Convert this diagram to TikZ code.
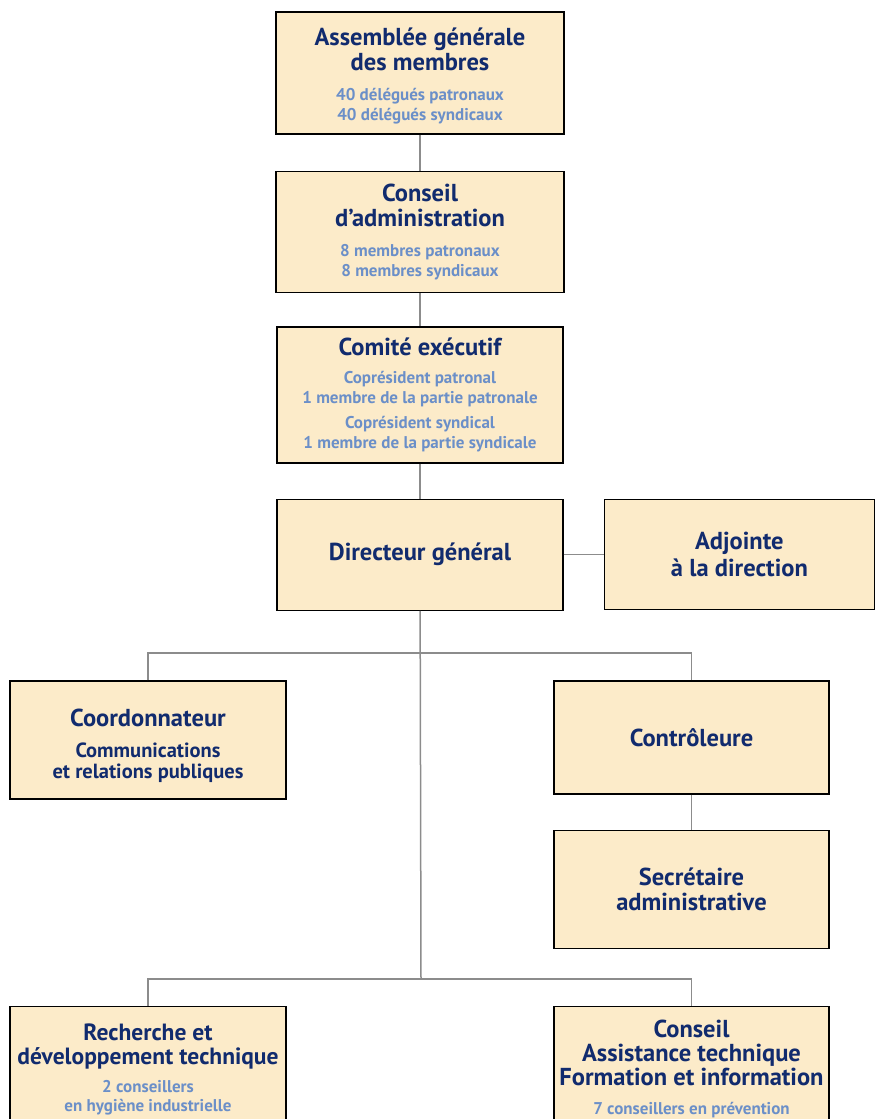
\documentclass[tikz,border=0pt]{standalone}
\usepackage{fontspec}
\setmainfont{PT Sans}
\usetikzlibrary{positioning}

\definecolor{boxfill}{HTML}{FCEBC9}
\definecolor{navy}{HTML}{112B6E}
\definecolor{steel}{HTML}{6B8FC8}
\definecolor{wire}{HTML}{8C8C8C}

\newcommand{\detail}[1]{\textcolor{steel}{\fontsize{17}{20}\selectfont #1}}
\newcommand{\soustitre}[1]{{\fontsize{20.5}{21}\selectfont #1}}

\tikzset{
	unit/.style={draw=black, line width=1.4pt, fill=boxfill, align=center,
		text=navy, font=\bfseries\fontsize{24.5}{25}\selectfont, inner sep=0pt,
		minimum width=288pt},
	link/.style={draw=wire, line width=1.5pt},
}

\begin{document}
\begin{tikzpicture}[x=1pt, y=1pt, node distance=36pt]
	\useasboundingbox (0,0) rectangle (875,-1119);
	% direction
	\node[unit, minimum height=122pt] (ag) at (420,-73)
		{\rule{0pt}{23pt}Assemblée générale\\des membres\\[5pt]\detail{40 délégués patronaux}\\[-5pt]\detail{40 délégués syndicaux}};
	\node[unit, minimum height=121pt, below=36pt of ag] (ca)
		{Conseil\\d’administration\\[5pt]\detail{8 membres patronaux}\\[-5pt]\detail{8 membres syndicaux}};
	\node[unit, minimum height=136pt, minimum width=286pt, below=33pt of ca] (ce)
		{Comité exécutif\\[3pt]\detail{Coprésident patronal}\\[-5pt]\detail{1 membre de la partie patronale}\\\detail{Coprésident syndical}\\[-5pt]\detail{1 membre de la partie syndicale}};
	\node[unit, minimum height=111pt, minimum width=286pt, below=35pt of ce] (dg)
		{Directeur général};
	\node[unit, minimum height=110pt, minimum width=270pt, right=40pt of dg] (adj)
		{Adjointe\\[2pt]à la direction};
	% services
	\node[unit, minimum height=118pt, minimum width=276pt] (coord) at (148,-740)
		{\rule{0pt}{29pt}Coordonnateur\\[6pt]\soustitre{Communications}\\[-4pt]\soustitre{et relations publiques}};
	\node[unit, minimum height=113pt, minimum width=275pt] (contr) at (691.5,-737.5)
		{Contrôleure};
	\node[unit, minimum height=118pt, minimum width=275pt, below=35pt of contr] (secr)
		{Secrétaire\\administrative};
	\node[unit, anchor=north, minimum width=276pt, minimum height=126pt,
		font=\bfseries\fontsize{23.5}{24}\selectfont] (rech) at (148,-1006)
		{Recherche et\\développement technique\\[4pt]\detail{2 conseillers}\\[-5pt]\detail{en hygiène industrielle}};
	\node[unit, anchor=north, minimum width=275pt, minimum height=124pt] (cons) at (691.5,-1006)
		{Conseil\\[-1pt]Assistance technique\\[-1pt]Formation et information\\[4pt]\detail{7 conseillers en prévention}};
	\coordinate (bar1) at (421,-653);
	\coordinate (bar2) at (421,-979);

	\draw[link] (ag) -- (ca);
	\draw[link] (ca) -- (ce);
	\draw[link] (ce) -- (dg);
	\draw[link] (dg) -- (adj);
	\draw[link] (dg) -- (bar2);
	\draw[link] (coord.north) |- (bar1) -| (contr.north);
	\draw[link] (contr) -- (secr);
	\draw[link] (rech.north) |- (bar2) -| (cons.north);
\end{tikzpicture}
\end{document}
